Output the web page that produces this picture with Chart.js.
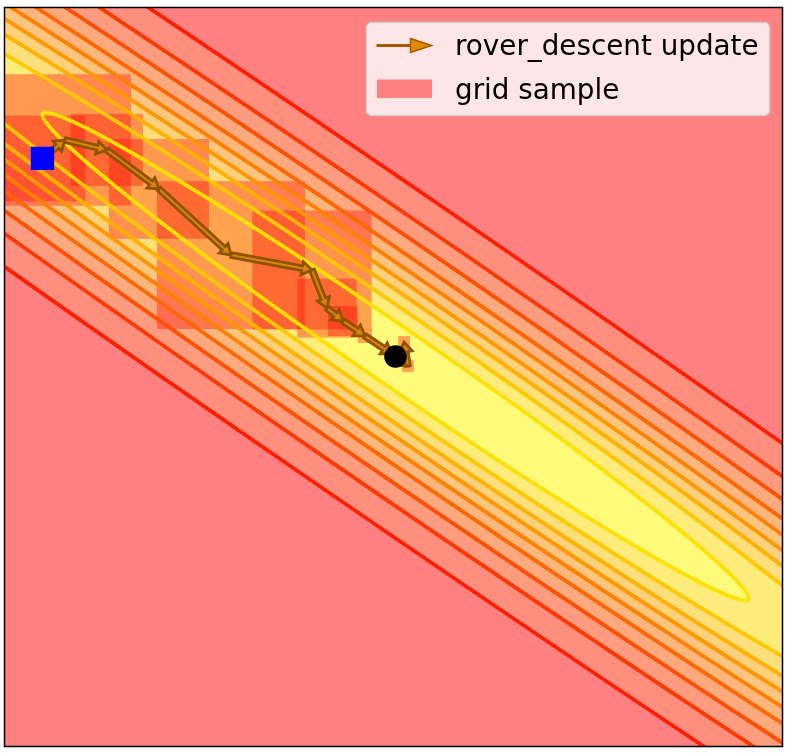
<!DOCTYPE html>
<html>
<head>
<meta charset="utf-8">
<script src="https://cdn.jsdelivr.net/npm/chart.js@4.4.1/dist/chart.umd.min.js"></script>
<style>
  html, body { margin: 0; padding: 0; background: #fff; }
</style>
</head>
<body>
<canvas id="myChart" width="788" height="753"></canvas>
<script>
// objective f(x, y) = A*dx^2 + B*dx*dy + C*dy^2 around its minimum
const fMin = [0.011, 0.111];
const fCoef = [13.335, 38.104, 27.793];
const levels = [1, 2.22, 3.65, 5.23, 7.24, 9.73, 13.27, 18.22, 26.89];

// descent iterates
const stepX = [-1.895, -1.773, -1.547, -1.266, -0.877, -0.440, -0.359, -0.273, -0.154, -0.008, 0.078, 0.057];
const stepY = [1.183, 1.283, 1.229, 1.018, 0.660, 0.579, 0.373, 0.303, 0.222, 0.125, 0.060, 0.189];
// half size of the grid sample box around each iterate
const boxHalf = [0.232, 0.356, 0.195, 0.27, 0.40, 0.322, 0.16, 0.081, 0.038, 0.03, 0.032, 0.032];

const seriesLabels = ['rover_descent update', 'grid sample'];

const steps = stepX.map((v, i) => ({ x: v, y: stepY[i], half: boxHalf[i] }));

// autumn_r, blended at alpha 0.5 on white
function bandColor(t) {
  return 'rgb(255,' + Math.round(250 - 122 * t) + ',' + Math.round(122 + 6 * t) + ')';
}
function lineColor(t) {
  return 'rgb(255,' + Math.round(255 * (1 - t)) + ',0)';
}

const contourPlugin = {
  id: 'contours',
  beforeDatasetsDraw(chart) {
    const { ctx, chartArea: a, scales: { x, y } } = chart;
    const sx = x.getPixelForValue(1) - x.getPixelForValue(0);
    const sy = y.getPixelForValue(0) - y.getPixelForValue(1);
    const [A, B, C] = fCoef;
    const h = B / 2;
    const root = Math.sqrt((A - C) ** 2 + 4 * h * h);
    const l1 = (A + C - root) / 2, l2 = (A + C + root) / 2;
    const phi = Math.atan2(l1 - A, h);
    const cx = x.getPixelForValue(fMin[0]), cy = y.getPixelForValue(fMin[1]);

    const ellipse = (lv) => {
      ctx.save();
      ctx.translate(cx, cy);
      ctx.scale(sx, -sy);
      ctx.rotate(phi);
      ctx.beginPath();
      ctx.ellipse(0, 0, Math.sqrt(lv / l1), Math.sqrt(lv / l2), 0, 0, Math.PI * 2);
      ctx.restore();
    };

    ctx.save();
    ctx.beginPath();
    ctx.rect(a.left, a.top, a.width, a.height);
    ctx.clip();

    const n = levels.length;
    ctx.fillStyle = bandColor(1);
    ctx.fillRect(a.left, a.top, a.width, a.height);
    for (let i = n - 1; i >= 0; i--) {
      ellipse(levels[i]);
      ctx.fillStyle = bandColor(i / n);
      ctx.fill();
    }

    // grid samples
    ctx.fillStyle = 'rgba(255,0,0,0.35)';
    steps.forEach(p => {
      const px = x.getPixelForValue(p.x), py = y.getPixelForValue(p.y);
      const hx = p.half * sx, hy = p.half * sy;
      ctx.fillRect(px - hx, py - hy, 2 * hx, 2 * hy);
    });

    // contour lines
    ctx.lineWidth = 3.8;
    for (let i = 0; i < n; i++) {
      ellipse(levels[i]);
      ctx.strokeStyle = lineColor(0.12 + 0.76 * i / (n - 1));
      ctx.stroke();
    }

    // update arrows
    const meta = chart.getDatasetMeta(0).data;
    ctx.lineWidth = 2.8;
    ctx.lineJoin = 'miter';
    ctx.fillStyle = '#DA8600';
    ctx.strokeStyle = '#8E5200';
    for (let i = 0; i < meta.length - 1; i++) {
      drawArrow(ctx, meta[i].x, meta[i].y, meta[i + 1].x, meta[i + 1].y, 2.4, 6.5, 10);
    }
    ctx.restore();
  },
  afterDraw(chart) {
    const { ctx, chartArea: a } = chart;
    ctx.save();
    // legend
    const lx = a.left + 362, ly = a.top + 15, lw = 403, lh = 93;
    ctx.beginPath();
    ctx.roundRect(lx, ly, lw, lh, 5);
    ctx.fillStyle = 'rgba(255,255,255,0.8)';
    ctx.fill();
    ctx.lineWidth = 1.5;
    ctx.strokeStyle = '#D0D0D0';
    ctx.stroke();

    ctx.beginPath();
    ctx.moveTo(lx + 10, ly + 23);
    ctx.lineTo(lx + 45, ly + 23);
    ctx.lineWidth = 2.8;
    ctx.strokeStyle = '#A85600';
    ctx.stroke();
    ctx.beginPath();
    ctx.moveTo(lx + 44, ly + 16);
    ctx.lineTo(lx + 65, ly + 23);
    ctx.lineTo(lx + 44, ly + 30);
    ctx.closePath();
    ctx.fillStyle = '#E08A00';
    ctx.fill();
    ctx.lineWidth = 1.5;
    ctx.stroke();

    ctx.fillStyle = '#FF8080';
    ctx.fillRect(lx + 10.5, ly + 57, 55, 18.5);

    ctx.fillStyle = '#000';
    ctx.font = '27.8px "DejaVu Sans"';
    ctx.textBaseline = 'alphabetic';
    ctx.fillText(chart.data.datasets[0].label, lx + 88.5, ly + 32.5);
    ctx.fillText(chart.data.datasets[1].label, lx + 88.5, ly + 76);

    // frame
    ctx.lineWidth = 1.5;
    ctx.strokeStyle = '#000';
    ctx.strokeRect(a.left, a.top, a.width, a.height);
    ctx.restore();
  }
};

function drawArrow(ctx, x0, y0, x1, y1, w, hw, hl) {
  const dx = x1 - x0, dy = y1 - y0;
  const len = Math.hypot(dx, dy);
  if (len < 0.5) return;
  const ux = dx / len, uy = dy / len;
  const nx = -uy, ny = ux;
  const hlen = Math.min(hl, len);
  const bx = x1 - ux * hlen, by = y1 - uy * hlen;
  ctx.beginPath();
  ctx.moveTo(x0 + nx * w, y0 + ny * w);
  ctx.lineTo(bx + nx * w, by + ny * w);
  ctx.lineTo(bx + nx * hw, by + ny * hw);
  ctx.lineTo(x1, y1);
  ctx.lineTo(bx - nx * hw, by - ny * hw);
  ctx.lineTo(bx - nx * w, by - ny * w);
  ctx.lineTo(x0 - nx * w, y0 - ny * w);
  ctx.closePath();
  ctx.fill();
  ctx.stroke();
}

new Chart(document.getElementById('myChart'), {
  type: 'scatter',
  data: {
    datasets: [{
      label: seriesLabels[0],
      data: steps,
      pointRadius: 0,
      showLine: false
    }, {
      label: seriesLabels[1],
      data: steps,
      pointRadius: 0,
      showLine: false
    }, {
      label: 'start',
      data: [{ x: stepX[0], y: stepY[0] }],
      pointStyle: 'rect',
      pointRadius: 16.5,
      backgroundColor: '#0000FF',
      borderWidth: 0
    }, {
      label: 'minimum',
      data: [{ x: fMin[0], y: fMin[1] }],
      pointStyle: 'circle',
      pointRadius: 11.3,
      backgroundColor: '#000000',
      borderWidth: 0
    }]
  },
  options: {
    responsive: false,
    animation: false,
    events: [],
    layout: { autoPadding: false, padding: { left: 4.5, top: 7.5, right: 5.5, bottom: 6.5 } },
    plugins: { legend: { display: false }, tooltip: { enabled: false } },
    scales: {
      x: { type: 'linear', min: -2.1, max: 2.1, display: false },
      y: { type: 'linear', min: -2, max: 2, display: false }
    }
  },
  plugins: [contourPlugin]
});
</script>
</body>
</html>
